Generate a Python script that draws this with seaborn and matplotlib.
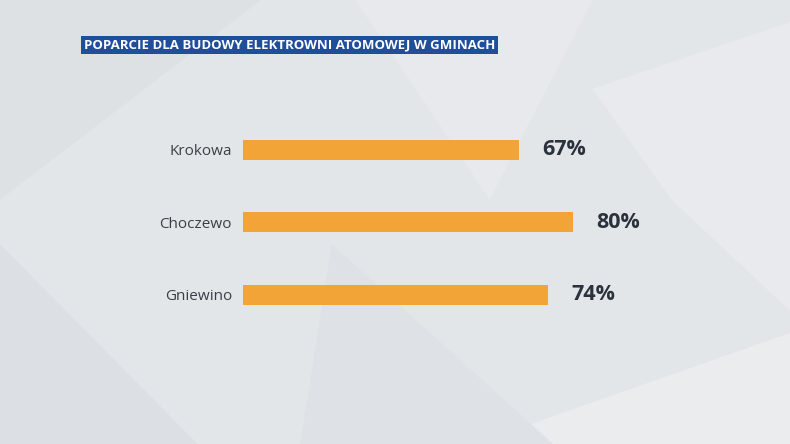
import matplotlib
matplotlib.use('Agg')
import matplotlib.pyplot as plt
from matplotlib.patches import Polygon
import seaborn as sns

# data
gminy = ['Krokowa', 'Choczewo', 'Gniewino']
poparcie = [67, 80, 74]
title = 'POPARCIE DLA BUDOWY ELEKTROWNI ATOMOWEJ W GMINACH'

BG = '#e3e6e9'
BAR = '#f2a536'
TEXT = '#3a3f46'
BLUE = '#1f4e9b'

sns.set_style('white')
plt.rcParams['font.family'] = ['Open Sans', 'DejaVu Sans']

fig = plt.figure(figsize=(7.9, 4.44), dpi=100, facecolor=BG)

# faint background shapes
shapes = [
    ([(0.0, 1.0), (0.33, 1.0), (0.0, 0.55)], '#dee1e4'),
    ([(0.45, 1.0), (0.75, 1.0), (0.62, 0.55)], '#e7e9ec'),
    ([(0.75, 0.8), (1.0, 0.95), (1.0, 0.3), (0.85, 0.55)], '#e8eaed'),
    ([(0.0, 0.45), (0.25, 0.0), (0.0, 0.0)], '#dcdfe3'),
    ([(0.6, 0.0), (1.0, 0.0), (1.0, 0.25)], '#eaecee'),
    ([(0.42, 0.45), (0.7, 0.0), (0.38, 0.0)], '#dee1e5'),
]
for pts, c in shapes:
    fig.add_artist(Polygon(pts, closed=True, transform=fig.transFigure,
                           facecolor=c, edgecolor='none', zorder=0))

ax = fig.add_axes([243 / 790, 1 - 331 / 444, 412 / 790, 217.5 / 444])
ax.set_facecolor('none')
sns.barplot(x=poparcie, y=gminy, orient='h', color=BAR, width=0.28,
            saturation=1, linewidth=0, ax=ax)
ax.set_xlim(0, 100)
ax.set_xlabel('')
ax.set_ylabel('')
ax.set_xticks([])
sns.despine(ax=ax, left=True, bottom=True)
ax.tick_params(axis='y', length=0, pad=8, labelsize=11, labelcolor=TEXT)

for i, v in enumerate(poparcie):
    ax.annotate(f'{v}%', xy=(v, i), xytext=(17, 0), textcoords='offset points',
                va='center', ha='left', fontsize=15.5, fontweight='bold',
                color='#2b323b')

fig.text(84 / 790, 1 - 45 / 444, title, fontsize=9.5, fontweight='bold',
         color='white', va='center', ha='left',
         bbox=dict(boxstyle='square,pad=0.2', facecolor=BLUE, edgecolor='none'))

fig.savefig('out.png', dpi=100, facecolor=BG)
